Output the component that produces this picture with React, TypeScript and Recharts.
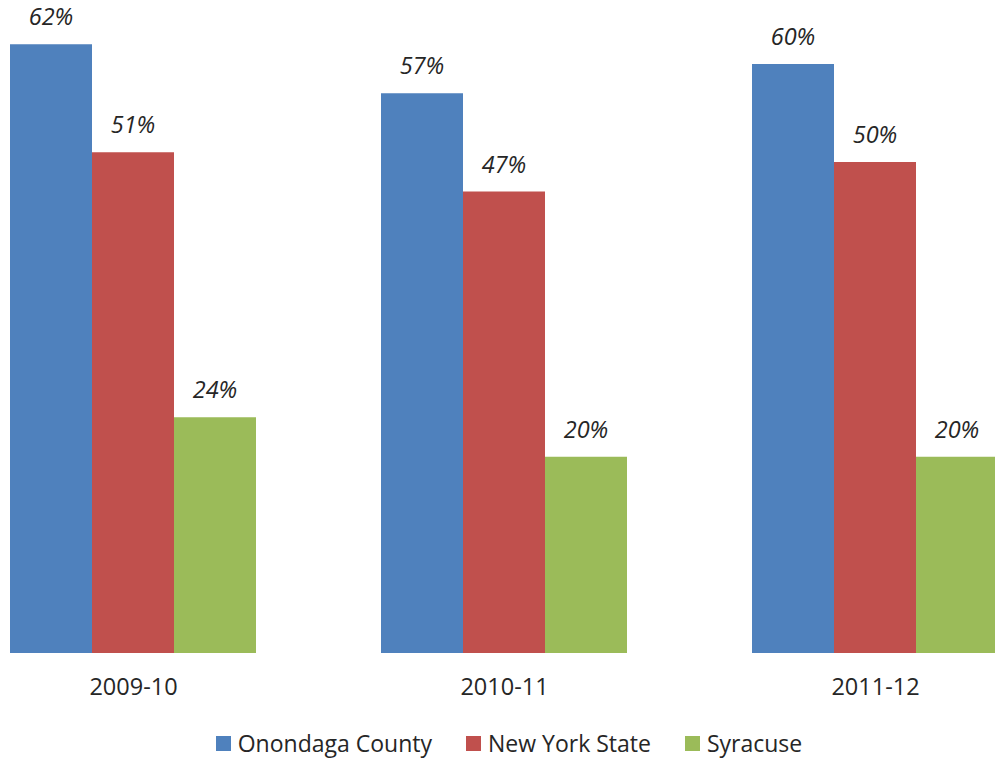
import React from 'react';
import { BarChart, Bar, XAxis, YAxis, Legend, LabelList } from 'recharts';

const years = ['2009-10', '2010-11', '2011-12'];
const onondaga = [62, 57, 60];
const newYork = [51, 47, 50];
const syracuse = [24, 20, 20];

const series = [
  { key: 'onondaga', name: 'Onondaga County', color: '#4F81BD' },
  { key: 'newYork', name: 'New York State', color: '#C0504D' },
  { key: 'syracuse', name: 'Syracuse', color: '#9BBB59' },
];

const data = years.map((year, i) => ({
  year,
  onondaga: onondaga[i],
  newYork: newYork[i],
  syracuse: syracuse[i],
}));

const FONT = '"Open Sans", "Liberation Sans", sans-serif';

const renderLegend = () => (
  <div
    style={{
      display: 'flex',
      justifyContent: 'center',
      alignItems: 'center',
      height: 40,
      paddingLeft: 9,
      paddingTop: 4,
      fontFamily: FONT,
      fontSize: 23,
      color: '#262626',
    }}
  >
    {series.map((s) => (
      <div key={s.key} style={{ display: 'flex', alignItems: 'center', margin: '0 17px' }}>
        <span style={{ width: 15, height: 15, background: s.color, marginRight: 7, display: 'inline-block' }} />
        <span>{s.name}</span>
      </div>
    ))}
  </div>
);

export default function App() {
  return (
    <div
      style={{
        position: 'absolute',
        left: 0,
        top: 0,
        width: 995,
        height: 759,
        overflow: 'hidden',
        background: '#fff',
      }}
    >
      <div style={{ position: 'absolute', left: -52, top: 0 }}>
        <BarChart
          width={1113}
          height={759}
          data={data}
          margin={{ top: 5, right: 0, left: 0, bottom: 0 }}
          barCategoryGap={62}
          barGap={0}
        >
          <XAxis
            dataKey="year"
            axisLine={false}
            tickLine={false}
            height={66}
            tickMargin={19}
            tick={{ fontFamily: FONT, fontSize: 23.5, fill: '#262626' }}
          />
          <YAxis hide domain={[0, 66]} />
          <Legend height={40} verticalAlign="bottom" content={renderLegend} />
          {series.map((s) => (
            <Bar key={s.key} dataKey={s.key} name={s.name} fill={s.color} isAnimationActive={false}>
              <LabelList
                dataKey={s.key}
                position="top"
                offset={19}
                formatter={(v: number) => `${v}%`}
                style={{ fontFamily: FONT, fontSize: 23.5, fontStyle: 'italic', fill: '#262626' }}
              />
            </Bar>
          ))}
        </BarChart>
      </div>
    </div>
  );
}
